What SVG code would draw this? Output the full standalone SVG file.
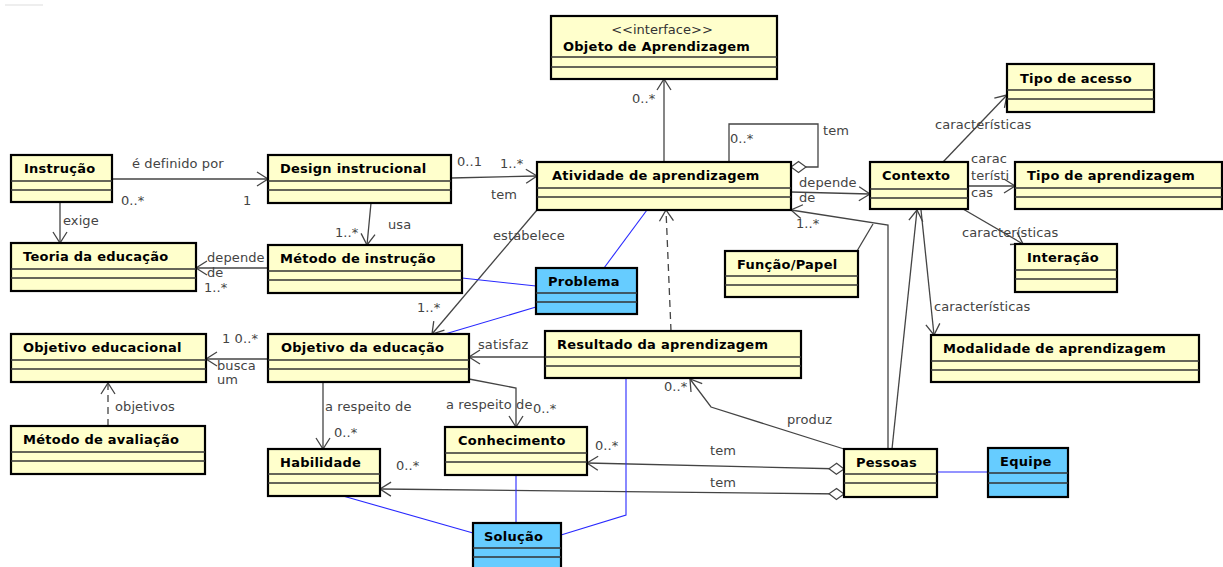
<svg xmlns="http://www.w3.org/2000/svg" width="1223" height="567" viewBox="0 0 1223 567">
<style>
.box{fill:#ffffcc;stroke:#000;stroke-width:2.2}
.bbox{fill:#66ccff;stroke:#000;stroke-width:2.2}
.sep{stroke:#333;stroke-width:1.3}
.name{font-family:"DejaVu Sans",Verdana,sans-serif;font-size:13px;font-weight:bold;fill:#000;letter-spacing:0.25px}
.stereo{font-family:"DejaVu Sans",Verdana,sans-serif;font-size:13px;fill:#333}
.lbl{font-family:"DejaVu Sans",Verdana,sans-serif;font-size:13px;fill:#444;letter-spacing:0.1px}
.c{fill:none;stroke:#444;stroke-width:1.3}
.b{fill:none;stroke:#2828ff;stroke-width:1.1}
.d{stroke-dasharray:7,5}
</style>
<defs>
<marker id="arr" markerUnits="userSpaceOnUse" markerWidth="16" markerHeight="16" viewBox="0 0 16 16" refX="13" refY="8" orient="auto"><path d="M2,1 L13,8 L2,15" fill="none" stroke="#444" stroke-width="1.3"/></marker>
<marker id="dia" markerUnits="userSpaceOnUse" markerWidth="18" markerHeight="14" viewBox="0 0 18 14" refX="1" refY="7" orient="auto"><path d="M1,7 L8.5,1.5 L16,7 L8.5,12.5 Z" fill="#fff" stroke="#444" stroke-width="1.2"/></marker>
</defs>
<rect width="1223" height="567" fill="#fff"/>
<line x1="5" y1="5" x2="43" y2="5" stroke="#ddd" stroke-width="1"/>

<g id="connectors">
<path class="c" d="M112,179 L268,179" marker-end="url(#arr)"/>
<path class="c" d="M60,202 L60,243" marker-end="url(#arr)"/>
<path class="c" d="M371,203 L367,245" marker-end="url(#arr)"/>
<path class="c" d="M268,268 L196,268" marker-end="url(#arr)"/>
<path class="c" d="M451,178 L537,176" marker-end="url(#arr)"/>
<path class="c" d="M664,162 L664,79" marker-end="url(#arr)"/>
<path class="c" d="M791,167 L818,167 L818,124 L729,124 L729,162" marker-start="url(#dia)"/>
<path class="c" d="M791,192 L870,194" marker-end="url(#arr)"/>
<path class="c" d="M888,449 L888,225 L791,210" marker-end="url(#arr)"/>
<path class="c" d="M857,251 L873,224"/>
<path class="c" d="M892,449 L917,210" marker-end="url(#arr)"/>
<path class="c" d="M921,210 L934,335" marker-end="url(#arr)"/>
<path class="c" d="M943,162 L1007,95" marker-end="url(#arr)"/>
<path class="c" d="M968,186 L1015,186" marker-end="url(#arr)"/>
<path class="c" d="M963,209 L1023,244" marker-end="url(#arr)"/>
<path class="c" d="M537,210 L432,334" marker-end="url(#arr)"/>
<path class="b" d="M604,268 L647,210"/>
<path class="b" d="M462,278 L536,286"/>
<path class="b" d="M536,307 L445,334"/>
<path class="c d" d="M671,331 L666,210" marker-end="url(#arr)"/>
<path class="c" d="M545,357 L469,357" marker-end="url(#arr)"/>
<path class="c" d="M268,359 L206,359" marker-end="url(#arr)"/>
<path class="c d" d="M108,426 L108,383" marker-end="url(#arr)"/>
<path class="c" d="M323,382 L323,449" marker-end="url(#arr)"/>
<path class="c" d="M469,379 L516,388 L516,427" marker-end="url(#arr)"/>
<path class="c" d="M844,469 L587,463" marker-start="url(#dia)" marker-end="url(#arr)"/>
<path class="c" d="M844,494 L380,489" marker-start="url(#dia)" marker-end="url(#arr)"/>
<path class="c" d="M844,449 L711,407 L690,379" marker-end="url(#arr)"/>
<path class="b" d="M937,472 L988,472"/>
<path class="b" d="M343,496 L473,533"/>
<path class="b" d="M516,475 L516,523"/>
<path class="b" d="M626,379 L626,515 L561,535"/>

<text class="lbl" x="132" y="168">é definido por</text>
<text class="lbl" x="121" y="205">0..*</text>
<text class="lbl" x="243" y="205">1</text>
<text class="lbl" x="63" y="225">exige</text>
<text class="lbl" x="388" y="229">usa</text>
<text class="lbl" x="335" y="237">1..*</text>
<text class="lbl" x="207" y="262">depende</text>
<text class="lbl" x="207" y="277">de</text>
<text class="lbl" x="204" y="292">1..*</text>
<text class="lbl" x="457" y="166">0..1</text>
<text class="lbl" x="500" y="168">1..*</text>
<text class="lbl" x="491" y="199">tem</text>
<text class="lbl" x="632" y="103">0..*</text>
<text class="lbl" x="730" y="143">0..*</text>
<text class="lbl" x="823" y="135">tem</text>
<text class="lbl" x="799" y="187">depende</text>
<text class="lbl" x="799" y="202">de</text>
<text class="lbl" x="796" y="228">1..*</text>
<text class="lbl" x="935" y="129">características</text>
<text class="lbl" x="971" y="163">carac</text>
<text class="lbl" x="971" y="180">terísti</text>
<text class="lbl" x="971" y="197">cas</text>
<text class="lbl" x="962" y="237">características</text>
<text class="lbl" x="934" y="311">características</text>
<text class="lbl" x="493" y="240">estabelece</text>
<text class="lbl" x="417" y="312">1..*</text>
<text class="lbl" x="478" y="349">satisfaz</text>
<text class="lbl" x="222" y="343">1 0..*</text>
<text class="lbl" x="217" y="370">busca</text>
<text class="lbl" x="217" y="384">um</text>
<text class="lbl" x="115" y="411">objetivos</text>
<text class="lbl" x="325" y="411">a respeito de</text>
<text class="lbl" x="334" y="437">0..*</text>
<text class="lbl" x="446" y="409">a respeito de</text>
<text class="lbl" x="533" y="413">0..*</text>
<text class="lbl" x="595" y="450">0..*</text>
<text class="lbl" x="710" y="455">tem</text>
<text class="lbl" x="396" y="470">0..*</text>
<text class="lbl" x="710" y="487">tem</text>
<text class="lbl" x="664" y="391">0..*</text>
<text class="lbl" x="787" y="424">produz</text>
</g>

<g id="n-objeto">
<rect class="box" x="551" y="16" width="226" height="63"/>
<line class="sep" x1="551" y1="57" x2="777" y2="57"/><line class="sep" x1="551" y1="67" x2="777" y2="67"/>
<text class="stereo" x="662" y="34" text-anchor="middle">&lt;&lt;interface&gt;&gt;</text>
<text class="name" x="563" y="51">Objeto de Aprendizagem</text>
</g>
<g id="n-instrucao">
<rect class="box" x="11" y="155" width="101" height="47"/>
<line class="sep" x1="11" y1="181" x2="112" y2="181"/><line class="sep" x1="11" y1="190" x2="112" y2="190"/>
<text class="name" x="24" y="173">Instrução</text>
</g>
<g id="n-design">
<rect class="box" x="268" y="155" width="183" height="48"/>
<line class="sep" x1="268" y1="181" x2="451" y2="181"/><line class="sep" x1="268" y1="190" x2="451" y2="190"/>
<text class="name" x="280" y="173">Design instrucional</text>
</g>
<g id="n-atividade">
<rect class="box" x="537" y="162" width="254" height="48"/>
<line class="sep" x1="537" y1="188" x2="791" y2="188"/><line class="sep" x1="537" y1="197" x2="791" y2="197"/>
<text class="name" x="552" y="180">Atividade de aprendizagem</text>
</g>
<g id="n-contexto">
<rect class="box" x="870" y="162" width="98" height="47"/>
<line class="sep" x1="870" y1="189" x2="968" y2="189"/><line class="sep" x1="870" y1="198" x2="968" y2="198"/>
<text class="name" x="882" y="180">Contexto</text>
</g>
<g id="n-tipoacesso">
<rect class="box" x="1007" y="64" width="147" height="48"/>
<line class="sep" x1="1007" y1="90" x2="1154" y2="90"/><line class="sep" x1="1007" y1="99" x2="1154" y2="99"/>
<text class="name" x="1020" y="83">Tipo de acesso</text>
</g>
<g id="n-tipoaprendizagem">
<rect class="box" x="1015" y="162" width="207" height="47"/>
<line class="sep" x1="1015" y1="188" x2="1222" y2="188"/><line class="sep" x1="1015" y1="197" x2="1222" y2="197"/>
<text class="name" x="1027" y="180">Tipo de aprendizagem</text>
</g>
<g id="n-interacao">
<rect class="box" x="1015" y="244" width="102" height="48"/>
<line class="sep" x1="1015" y1="270" x2="1117" y2="270"/><line class="sep" x1="1015" y1="279" x2="1117" y2="279"/>
<text class="name" x="1027" y="262">Interação</text>
</g>
<g id="n-teoria">
<rect class="box" x="11" y="243" width="185" height="48"/>
<line class="sep" x1="11" y1="269" x2="196" y2="269"/><line class="sep" x1="11" y1="278" x2="196" y2="278"/>
<text class="name" x="23" y="261">Teoria da educação</text>
</g>
<g id="n-metodoinstrucao">
<rect class="box" x="268" y="245" width="194" height="48"/>
<line class="sep" x1="268" y1="271" x2="462" y2="271"/><line class="sep" x1="268" y1="280" x2="462" y2="280"/>
<text class="name" x="280" y="263">Método de instrução</text>
</g>
<g id="n-funcao">
<rect class="box" x="725" y="251" width="133" height="46"/>
<line class="sep" x1="725" y1="276" x2="858" y2="276"/><line class="sep" x1="725" y1="285" x2="858" y2="285"/>
<text class="name" x="737" y="269">Função/Papel</text>
</g>
<g id="n-problema">
<rect class="bbox" x="536" y="268" width="101" height="46"/>
<line class="sep" x1="536" y1="293" x2="637" y2="293"/><line class="sep" x1="536" y1="302" x2="637" y2="302"/>
<text class="name" x="548" y="286">Problema</text>
</g>
<g id="n-objetivoeducacional">
<rect class="box" x="11" y="334" width="195" height="48"/>
<line class="sep" x1="11" y1="360" x2="206" y2="360"/><line class="sep" x1="11" y1="369" x2="206" y2="369"/>
<text class="name" x="23" y="352">Objetivo educacional</text>
</g>
<g id="n-objetivoeducacao">
<rect class="box" x="268" y="334" width="201" height="48"/>
<line class="sep" x1="268" y1="360" x2="469" y2="360"/><line class="sep" x1="268" y1="369" x2="469" y2="369"/>
<text class="name" x="281" y="352">Objetivo da educação</text>
</g>
<g id="n-resultado">
<rect class="box" x="545" y="331" width="256" height="47"/>
<line class="sep" x1="545" y1="357" x2="801" y2="357"/><line class="sep" x1="545" y1="366" x2="801" y2="366"/>
<text class="name" x="557" y="349">Resultado da aprendizagem</text>
</g>
<g id="n-modalidade">
<rect class="box" x="931" y="335" width="268" height="47"/>
<line class="sep" x1="931" y1="361" x2="1199" y2="361"/><line class="sep" x1="931" y1="370" x2="1199" y2="370"/>
<text class="name" x="943" y="353">Modalidade de aprendizagem</text>
</g>
<g id="n-avaliacao">
<rect class="box" x="11" y="426" width="194" height="48"/>
<line class="sep" x1="11" y1="452" x2="205" y2="452"/><line class="sep" x1="11" y1="461" x2="205" y2="461"/>
<text class="name" x="23" y="444">Método de avaliação</text>
</g>
<g id="n-habilidade">
<rect class="box" x="268" y="449" width="112" height="47"/>
<line class="sep" x1="268" y1="474" x2="380" y2="474"/><line class="sep" x1="268" y1="483" x2="380" y2="483"/>
<text class="name" x="280" y="467">Habilidade</text>
</g>
<g id="n-conhecimento">
<rect class="box" x="445" y="427" width="142" height="48"/>
<line class="sep" x1="445" y1="453" x2="587" y2="453"/><line class="sep" x1="445" y1="462" x2="587" y2="462"/>
<text class="name" x="458" y="445">Conhecimento</text>
</g>
<g id="n-solucao">
<rect class="bbox" x="473" y="523" width="88" height="50"/>
<line class="sep" x1="473" y1="548" x2="561" y2="548"/><line class="sep" x1="473" y1="557" x2="561" y2="557"/>
<text class="name" x="484" y="541">Solução</text>
</g>
<g id="n-pessoas">
<rect class="box" x="844" y="449" width="93" height="48"/>
<line class="sep" x1="844" y1="474" x2="937" y2="474"/><line class="sep" x1="844" y1="483" x2="937" y2="483"/>
<text class="name" x="856" y="467">Pessoas</text>
</g>
<g id="n-equipe">
<rect class="bbox" x="988" y="448" width="80" height="49"/>
<line class="sep" x1="988" y1="473" x2="1068" y2="473"/><line class="sep" x1="988" y1="483" x2="1068" y2="483"/>
<text class="name" x="1000" y="466">Equipe</text>
</g>
</svg>
